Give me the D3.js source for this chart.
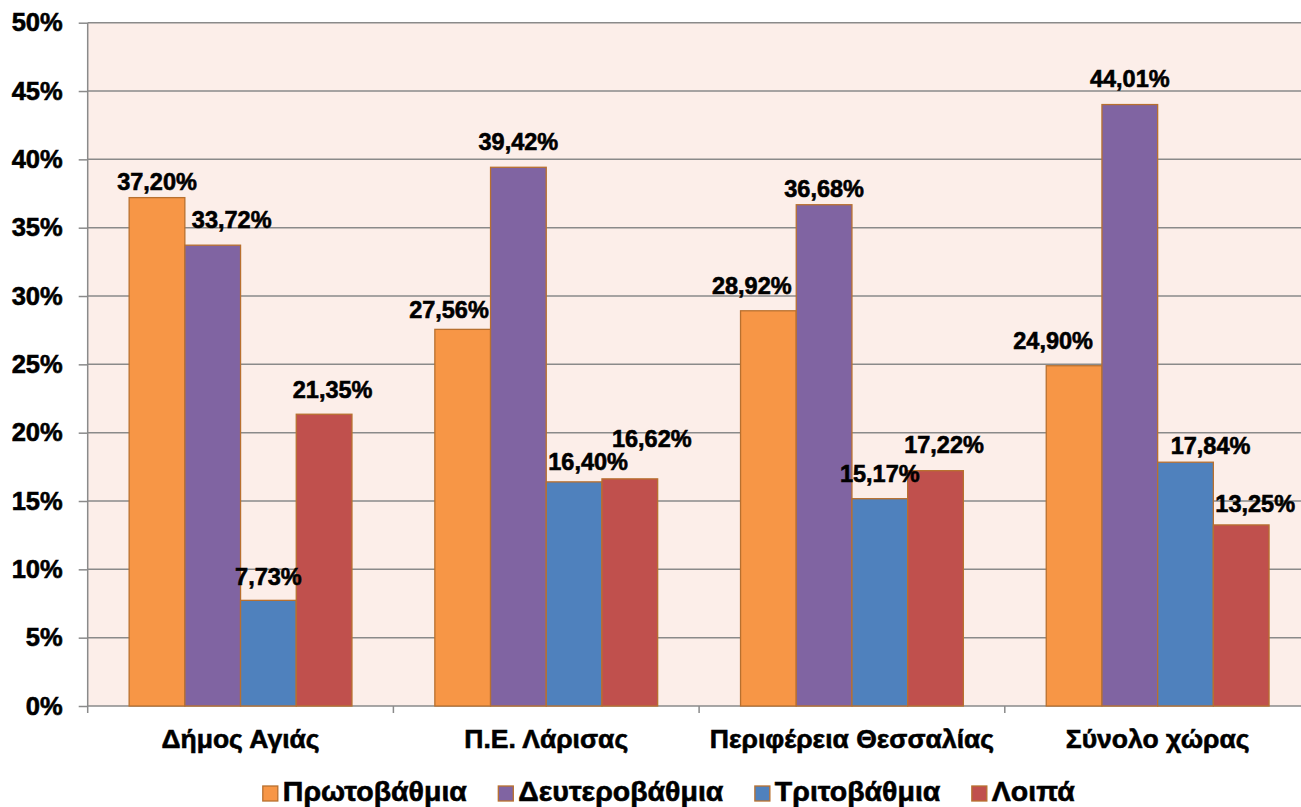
<!DOCTYPE html>
<html>
<head>
<meta charset="utf-8">
<script src="https://cdn.jsdelivr.net/npm/d3@7"></script>
<style>
  html, body { margin: 0; padding: 0; background: #fff; }
  svg text { fill: #000; stroke: #000; stroke-width: 0.6px; }
  .cat { font: 700 26.5px "Liberation Sans", Arial, sans-serif; }
  .leg { font: 700 28.5px "Liberation Sans", Arial, sans-serif; }
  .lab { font: 700 23.5px "Liberation Sans", Arial, sans-serif; }
  .tick text { font: 700 25.5px "Liberation Sans", Arial, sans-serif; }
</style>
</head>
<body>
<svg id="chart" width="1301" height="807"></svg>
<script>
const categories = ["Δήμος Αγιάς", "Π.Ε. Λάρισας", "Περιφέρεια Θεσσαλίας", "Σύνολο χώρας"];
const seriesNames = ["Πρωτοβάθμια", "Δευτεροβάθμια", "Τριτοβάθμια", "Λοιπά"];

const primary = [37.20, 27.56, 28.92, 24.90];
const secondary = [33.72, 39.42, 36.68, 44.01];
const tertiary = [7.73, 16.40, 15.17, 17.84];
const other = [21.35, 16.62, 17.22, 13.25];

const yTicks = [0, 5, 10, 15, 20, 25, 30, 35, 40, 45, 50];

const seriesValues = [primary, secondary, tertiary, other];
const colors = ["#F79646", "#8064A2", "#4F81BD", "#C0504D"];
const barStroke = "#B8702F";

// hand-placed data labels in the original: [dx, gap above bar top]
const labelShift = [
  [[0, 7.6], [-13.7, 11], [-16.6, 16.7], [-21, 16.7]],
  [[19, 17], [0, 17], [0, 8], [0, 17.3]],
  [[0, 15], [14, 12], [0, 16.7], [25, 7.7]],
  [[8.5, 16.7], [22, 31.6], [8.5, 17.7], [14, 13.3]]
];

const svg = d3.select("#chart");
const plotLeft = 87.7, plotTop = 22.7, plotBottom = 706, bandW = 305.7;
const plotRight = plotLeft + bandW * categories.length;

const x0 = d3.scaleBand().domain(categories).range([plotLeft, plotRight]);
const x1 = d3.scaleBand().domain(seriesNames).range([0, x0.bandwidth()])
  .paddingInner(0).paddingOuter(0.744);
const y = d3.scaleLinear().domain([0, 50]).range([plotBottom, plotTop]);

const locale = d3.formatLocale({ decimal: ",", thousands: ".", grouping: [3], currency: ["", "€"] });
const fmt = locale.format(".2f");

// plot background
svg.append("rect")
  .attr("x", plotLeft).attr("y", plotTop)
  .attr("width", plotRight - plotLeft).attr("height", plotBottom - plotTop)
  .attr("fill", "#FCEEE9");

// gridlines
svg.append("g")
  .selectAll("line")
  .data(yTicks.filter(d => d > 0))
  .join("line")
  .attr("x1", plotLeft).attr("x2", plotRight)
  .attr("y1", d => y(d)).attr("y2", d => y(d))
  .attr("stroke", "#8a8a8a").attr("stroke-width", 1.5);

// y axis
const yAxis = svg.append("g")
  .attr("transform", `translate(${plotLeft},0)`)
  .call(d3.axisLeft(y).tickValues(yTicks).tickSize(9).tickPadding(16).tickFormat(d => d + "%"));
yAxis.attr("font-family", null).attr("font-size", null);
yAxis.select(".domain").attr("stroke", "#8a8a8a").attr("stroke-width", 1.5)
  .attr("d", `M0,${plotTop}V${plotBottom + 7}`);
yAxis.selectAll(".tick line").attr("stroke", "#8a8a8a").attr("stroke-width", 1.5);
yAxis.selectAll(".tick text").attr("fill", "#000");

// x axis
const xAxis = svg.append("g")
  .attr("transform", `translate(0,${plotBottom})`);
xAxis.append("line")
  .attr("x1", plotLeft).attr("x2", plotRight).attr("y1", 0).attr("y2", 0)
  .attr("stroke", "#8a8a8a").attr("stroke-width", 1.5);
xAxis.selectAll("line.tk")
  .data(categories)
  .join("line")
  .attr("class", "tk")
  .attr("x1", d => x0(d) + x0.bandwidth()).attr("x2", d => x0(d) + x0.bandwidth())
  .attr("y1", 0).attr("y2", 7)
  .attr("stroke", "#8a8a8a").attr("stroke-width", 1.5);
xAxis.selectAll("text")
  .data(categories)
  .join("text")
  .attr("class", "cat")
  .attr("x", d => x0(d) + x0.bandwidth() / 2)
  .attr("y", 42)
  .attr("text-anchor", "middle")
  .text(d => d);

// bars
const groups = svg.append("g")
  .selectAll("g")
  .data(categories)
  .join("g")
  .attr("transform", d => `translate(${x0(d)},0)`);

groups.selectAll("rect")
  .data((d, ci) => seriesNames.map((s, si) => ({ s, si, ci, v: seriesValues[si][ci] })))
  .join("rect")
  .attr("x", d => x1(d.s))
  .attr("y", d => y(d.v))
  .attr("width", x1.bandwidth())
  .attr("height", d => y(0) - y(d.v))
  .attr("fill", d => colors[d.si])
  .attr("stroke", barStroke)
  .attr("stroke-width", 1.3);

groups.selectAll("text")
  .data((d, ci) => seriesNames.map((s, si) => ({ s, si, ci, v: seriesValues[si][ci] })))
  .join("text")
  .attr("class", "lab")
  .attr("x", d => x1(d.s) + x1.bandwidth() / 2 + labelShift[d.si][d.ci][0])
  .attr("y", d => y(d.v) - labelShift[d.si][d.ci][1])
  .attr("text-anchor", "middle")
  .text(d => fmt(d.v) + "%");

// legend
const legend = svg.append("g");
const items = legend.selectAll("g")
  .data(seriesNames)
  .join("g");
items.append("rect")
  .attr("width", 15).attr("height", 15)
  .attr("y", -15)
  .attr("fill", (d, i) => colors[i])
  .attr("stroke", barStroke).attr("stroke-width", 1.3);
items.append("text")
  .attr("class", "leg")
  .attr("x", 20)
  .text(d => d);

let cursor = 0;
const offsets = [];
items.each(function () {
  offsets.push(cursor);
  cursor += this.getBBox().width + 31;
});
cursor -= 31;
const legendStart = 669 - cursor / 2;
items.attr("transform", (d, i) => `translate(${legendStart + offsets[i]},801)`);
</script>
</body>
</html>
